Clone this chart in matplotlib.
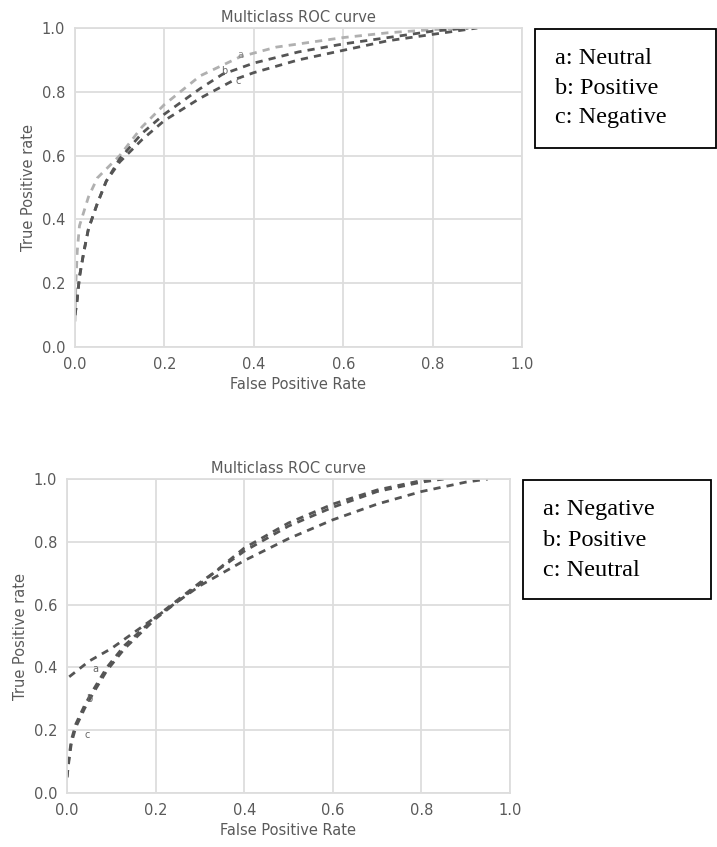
import matplotlib
matplotlib.use('Agg')
import matplotlib.pyplot as plt
from matplotlib.patches import Rectangle

# top chart data
fpr_top_a = [0.0, 0.002, 0.005, 0.01, 0.03, 0.05, 0.1, 0.15, 0.2, 0.28, 0.37, 0.45, 0.6, 0.7, 0.8, 0.88]
tpr_top_a = [0.08, 0.2, 0.3, 0.38, 0.47, 0.53, 0.6, 0.69, 0.76, 0.85, 0.91, 0.94, 0.97, 0.985, 0.995, 1.0]
fpr_top_b = [0.0, 0.005, 0.01, 0.02, 0.03, 0.05, 0.07, 0.1, 0.15, 0.2, 0.28, 0.33, 0.4, 0.5, 0.6, 0.7, 0.8, 0.88]
tpr_top_b = [0.1, 0.15, 0.22, 0.3, 0.37, 0.45, 0.52, 0.59, 0.67, 0.73, 0.81, 0.855, 0.89, 0.925, 0.95, 0.97, 0.99, 1.0]
fpr_top_c = [0.0, 0.005, 0.01, 0.02, 0.03, 0.05, 0.07, 0.1, 0.15, 0.2, 0.28, 0.36, 0.4, 0.5, 0.6, 0.7, 0.8, 0.9]
tpr_top_c = [0.1, 0.15, 0.22, 0.3, 0.37, 0.45, 0.52, 0.58, 0.65, 0.71, 0.78, 0.84, 0.86, 0.9, 0.93, 0.96, 0.98, 1.0]
top_labels = ['a: Neutral', 'b: Positive', 'c: Negative']

# bottom chart data
fpr_bot_a = [0.005, 0.05, 0.1, 0.2, 0.3, 0.4, 0.5, 0.6, 0.7, 0.8, 0.9, 0.95]
tpr_bot_a = [0.37, 0.42, 0.46, 0.56, 0.66, 0.74, 0.81, 0.87, 0.92, 0.96, 0.99, 1.0]
fpr_bot_b = [0.0, 0.005, 0.01, 0.02, 0.04, 0.06, 0.09, 0.13, 0.2, 0.3, 0.4, 0.5, 0.6, 0.7, 0.8, 0.85]
tpr_bot_b = [0.05, 0.12, 0.17, 0.22, 0.28, 0.33, 0.4, 0.47, 0.56, 0.67, 0.77, 0.85, 0.91, 0.96, 0.99, 1.0]
fpr_bot_c = [0.0, 0.005, 0.01, 0.02, 0.04, 0.06, 0.09, 0.13, 0.2, 0.3, 0.4, 0.5, 0.6, 0.7, 0.8, 0.83]
tpr_bot_c = [0.05, 0.11, 0.16, 0.21, 0.27, 0.32, 0.39, 0.46, 0.555, 0.665, 0.78, 0.86, 0.92, 0.965, 0.995, 1.0]
bot_labels = ['a: Negative', 'b: Positive', 'c: Neutral']

W, H = 717, 847
fig = plt.figure(figsize=(W / 100, H / 100), dpi=100)

def px_axes(left, top, right, bottom):
    return fig.add_axes([left / W, 1 - bottom / H, (right - left) / W, (bottom - top) / H])

def style(ax):
    ax.set_xlim(0, 1)
    ax.set_ylim(0, 1)
    ax.set_xticks([0, 0.2, 0.4, 0.6, 0.8, 1.0])
    ax.set_yticks([0, 0.2, 0.4, 0.6, 0.8, 1.0])
    ax.grid(True, color='#dddddd', linewidth=1.3)
    ax.set_axisbelow(True)
    for s in ax.spines.values():
        s.set_color('#dddddd')
        s.set_linewidth(1.3)
    ax.tick_params(length=0, labelsize=10.5, labelcolor='#5a5a5a', pad=7)
    ax.set_xlabel('False Positive Rate', fontsize=10.5, color='#5a5a5a')
    ax.set_ylabel('True Positive rate', fontsize=10.5, color='#5a5a5a')
    ax.set_title('Multiclass ROC curve', fontsize=10.5, color='#5a5a5a', pad=4)

dash = (0, (2.6, 2.2))

ax1 = px_axes(75, 28, 522, 347)
ax1.plot(fpr_top_a, tpr_top_a, color='#b0b0b0', lw=2, linestyle=dash)
ax1.plot(fpr_top_b, tpr_top_b, color='#555555', lw=2, linestyle=dash)
ax1.plot(fpr_top_c, tpr_top_c, color='#555555', lw=2, linestyle=dash)
ax1.text(0.37, 0.915, 'a', fontsize=7, color='#888888', ha='center', va='center')
ax1.text(0.335, 0.865, 'b', fontsize=7, color='#666666', ha='center', va='center')
ax1.text(0.365, 0.835, 'c', fontsize=7, color='#666666', ha='center', va='center')
style(ax1)

ax2 = px_axes(67, 479, 510, 793)
ax2.plot(fpr_bot_a, tpr_bot_a, color='#555555', lw=2, linestyle=dash)
ax2.plot(fpr_bot_b, tpr_bot_b, color='#555555', lw=2, linestyle=dash)
ax2.plot(fpr_bot_c, tpr_bot_c, color='#555555', lw=2, linestyle=dash)
ax2.text(0.065, 0.395, 'a', fontsize=7, color='#666666', ha='center', va='center')
ax2.text(0.05, 0.3, 'b', fontsize=7, color='#666666', ha='center', va='center')
ax2.text(0.045, 0.185, 'c', fontsize=7, color='#666666', ha='center', va='center')
style(ax2)

# legend boxes drawn as plain figure rectangles with Times-like text
def box(left, top, right, bottom, labels, tx, ty):
    fig.patches.append(Rectangle((left / W, 1 - bottom / H), (right - left) / W, (bottom - top) / H,
                                 transform=fig.transFigure, fill=False, edgecolor='black', lw=1.3))
    for lab, y in zip(labels, ty):
        fig.text(tx / W, 1 - y / H, lab, fontsize=17.5, family='Liberation Serif',
                 ha='left', va='center', color='black')

box(535, 29, 716, 148, top_labels, 555, [58, 88, 118])
box(523, 480, 711, 599, bot_labels, 543, [510, 540, 570])

fig.savefig('out.png', dpi=100)
